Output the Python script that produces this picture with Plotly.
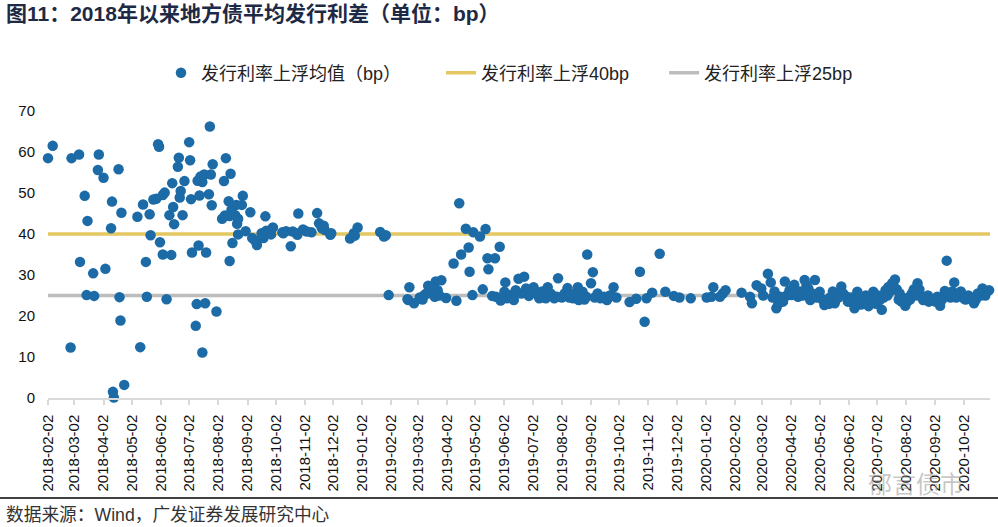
import plotly.graph_objects as go

# ---- data (issue date, average issuance spread in bp) ----
dates_2018 = [
    "2018-02-02","2018-02-07","2018-02-26","2018-02-27","2018-03-07","2018-03-08","2018-03-13","2018-03-15",
    "2018-03-16","2018-03-22","2018-03-23","2018-03-27","2018-03-28","2018-04-02","2018-04-04","2018-04-10",
    "2018-04-11","2018-04-12","2018-04-13","2018-04-18","2018-04-19","2018-04-20","2018-04-21","2018-04-24",
    "2018-05-08","2018-05-11","2018-05-14","2018-05-17","2018-05-18","2018-05-21","2018-05-22","2018-05-25",
    "2018-05-28","2018-05-30","2018-05-31","2018-06-01","2018-06-04","2018-06-04","2018-06-06","2018-06-08",
    "2018-06-11","2018-06-13","2018-06-14","2018-06-15","2018-06-16","2018-06-20","2018-06-21","2018-06-22",
    "2018-06-23","2018-06-25","2018-06-27","2018-07-02","2018-07-03","2018-07-04","2018-07-05","2018-07-09",
    "2018-07-10","2018-07-11","2018-07-12","2018-07-13","2018-07-14","2018-07-16","2018-07-16","2018-07-18",
    "2018-07-19","2018-07-20","2018-07-23","2018-07-24","2018-07-25","2018-07-26","2018-07-27","2018-07-31",
    "2018-08-06","2018-08-08","2018-08-09","2018-08-10","2018-08-13","2018-08-14","2018-08-14","2018-08-15",
    "2018-08-16","2018-08-17","2018-08-20","2018-08-21","2018-08-22","2018-08-23","2018-08-23","2018-08-27",
    "2018-08-28","2018-08-31","2018-09-05","2018-09-07","2018-09-10","2018-09-12","2018-09-17","2018-09-19",
    "2018-09-21","2018-09-22","2018-09-27","2018-09-29","2018-10-09","2018-10-10","2018-10-13","2018-10-18",
    "2018-10-20","2018-10-24","2018-10-25","2018-10-26","2018-10-31","2018-11-04","2018-11-09","2018-11-15",
    "2018-11-17","2018-11-20","2018-11-22","2018-11-23","2018-11-29","2018-11-30","2018-12-20","2018-12-24",
    "2018-12-25","2018-12-28",
]
spread_2018 = [
    58.5,61.5,12.3,58.5,59.4,33.2,49.3,25.1,
    43.2,30.4,24.9,55.6,59.4,53.7,31.5,41.4,
    47.9,1.5,0.1,55.8,24.6,18.9,45.2,3.2,
    44.2,12.4,47.2,33.2,24.7,44.8,39.7,48.4,
    48.6,61.9,61.3,38.0,35.0,49.5,50.1,24.1,
    44.6,34.9,52.4,46.6,42.4,56.4,58.6,48.9,
    50.5,44.6,52.9,62.4,58.0,48.5,35.5,17.6,
    22.9,53.0,37.2,49.4,54.0,52.7,11.1,54.5,
    23.1,35.5,49.7,66.2,54.5,47.0,57.0,21.1,
    43.7,52.9,44.5,58.5,48.0,33.4,44.4,54.7,
    45.9,37.8,44.6,47.1,42.5,43.7,39.9,47.1,
    49.3,40.7,45.3,39.0,38.4,37.3,40.2,39.0,
    44.3,40.8,39.9,41.6,40.4,40.2,40.7,37.0,
    40.6,40.2,39.8,45.0,41.1,40.6,40.4,45.1,
    42.6,41.4,42.0,41.0,39.8,40.2,38.9,40.2,
    39.6,41.6,
]
dates_2019 = [
    "2019-01-21","2019-01-25","2019-01-27","2019-01-30","2019-02-19","2019-02-20","2019-02-21","2019-02-26",
    "2019-03-04","2019-03-07","2019-03-09","2019-03-11","2019-03-13","2019-03-16","2019-03-18","2019-03-20",
    "2019-03-21","2019-03-23","2019-03-25","2019-03-27","2019-04-01","2019-04-09","2019-04-12","2019-04-15",
    "2019-04-17","2019-04-22","2019-04-25","2019-04-26","2019-04-29","2019-04-30","2019-05-07","2019-05-10",
    "2019-05-13","2019-05-15","2019-05-16","2019-05-20","2019-05-23","2019-05-24","2019-05-28","2019-05-29",
    "2019-06-02","2019-06-03","2019-06-05","2019-06-09","2019-06-12","2019-06-14","2019-06-17","2019-06-20",
    "2019-06-23","2019-06-25","2019-06-28","2019-06-30","2019-07-03","2019-07-06","2019-07-09","2019-07-12",
    "2019-07-14","2019-07-16","2019-07-18","2019-07-21","2019-07-23","2019-07-25","2019-07-28","2019-07-29",
    "2019-08-02","2019-08-05","2019-08-08","2019-08-10","2019-08-12","2019-08-14","2019-08-16","2019-08-19",
    "2019-08-20","2019-08-24","2019-08-26","2019-08-28","2019-08-29","2019-09-02","2019-09-04","2019-09-06",
    "2019-09-09","2019-09-12","2019-09-16","2019-09-19","2019-09-22","2019-09-24","2019-09-26","2019-09-29",
    "2019-10-13","2019-10-20","2019-10-24","2019-10-29","2019-10-31","2019-11-06","2019-11-14","2019-11-20",
    "2019-11-29","2019-12-05","2019-12-17",
]
spread_2019 = [
    40.5,39.4,39.7,25.1,24.1,23.9,27.0,23.1,
    24.5,24.0,25.1,25.5,27.4,25.5,27.1,24.7,
    28.4,26.3,25.0,28.7,24.4,32.8,23.7,47.5,
    35.0,41.3,36.7,30.8,25.1,40.4,39.4,26.5,
    41.2,34.1,31.4,24.9,34.1,24.7,36.9,23.8,
    25.9,28.2,24.3,25.1,23.9,26.3,29.1,25.5,
    29.6,26.7,24.9,25.5,27.0,25.5,24.3,26.0,
    24.5,24.3,27.0,25.5,25.0,24.3,24.7,29.2,
    24.5,25.5,26.8,24.5,25.1,24.3,25.5,27.0,
    23.9,25.9,24.0,24.7,35.0,28.0,30.7,24.5,
    25.5,24.3,24.7,23.9,25.0,24.9,27.0,24.5,
    23.4,24.2,30.8,18.6,24.3,25.7,35.2,25.9,
    24.9,24.5,24.3,
]
dates_2020 = [
    "2020-01-03","2020-01-08","2020-01-10","2020-01-17","2020-01-20","2020-01-23","2020-02-09","2020-02-18",
    "2020-02-20","2020-02-25","2020-03-01","2020-03-03","2020-03-08","2020-03-11","2020-03-13","2020-03-15",
    "2020-03-17","2020-03-19","2020-03-21","2020-03-24","2020-03-26","2020-03-28","2020-03-31","2020-04-02",
    "2020-04-05","2020-04-07","2020-04-09","2020-04-11","2020-04-14","2020-04-16","2020-04-18","2020-04-20",
    "2020-04-22","2020-04-24","2020-04-27","2020-04-29","2020-05-02","2020-05-05","2020-05-07","2020-05-10",
    "2020-05-12","2020-05-13","2020-05-16","2020-05-18","2020-05-20","2020-05-22","2020-05-25","2020-05-27",
    "2020-05-31","2020-06-01","2020-06-03","2020-06-05","2020-06-08","2020-06-09","2020-06-11","2020-06-12",
    "2020-06-14","2020-06-15","2020-06-17","2020-06-19","2020-06-20","2020-06-23","2020-06-24","2020-06-26",
    "2020-06-28","2020-06-30","2020-07-01","2020-07-03","2020-07-05","2020-07-07","2020-07-09","2020-07-11",
    "2020-07-13","2020-07-14","2020-07-16","2020-07-18","2020-07-20","2020-07-21","2020-07-23","2020-07-25",
    "2020-07-26","2020-07-28","2020-07-30","2020-08-01","2020-08-03","2020-08-04","2020-08-06","2020-08-08",
    "2020-08-10","2020-08-12","2020-08-14","2020-08-16","2020-08-17","2020-08-19","2020-08-20","2020-08-23",
    "2020-08-25","2020-08-26","2020-08-28","2020-08-30","2020-09-02","2020-09-04","2020-09-07","2020-09-09",
    "2020-09-12","2020-09-14","2020-09-16","2020-09-18","2020-09-20","2020-09-22","2020-09-24","2020-09-27",
    "2020-09-29","2020-10-02","2020-10-04","2020-10-07","2020-10-10","2020-10-13","2020-10-15","2020-10-17",
    "2020-10-20","2020-10-22","2020-10-25","2020-10-27","2020-10-29","2020-10-31",
]
spread_2020 = [
    24.5,24.7,27.0,24.7,25.5,26.3,25.7,24.7,
    23.1,27.5,26.7,25.0,30.3,28.2,24.5,26.0,
    21.9,23.0,24.7,23.5,28.4,25.0,26.3,25.1,
    27.6,25.9,24.7,26.0,25.0,28.8,27.5,26.7,
    23.9,25.5,28.8,24.5,25.9,24.0,22.7,24.0,
    23.0,24.5,26.0,23.1,25.5,24.5,27.2,25.5,
    24.7,23.5,23.5,24.5,21.9,23.0,25.9,24.0,
    23.5,22.8,24.3,24.0,25.0,22.4,24.8,23.5,
    25.9,24.0,23.0,25.0,23.9,21.5,24.5,26.3,
    25.0,27.1,26.0,28.0,27.0,28.9,26.5,24.0,
    25.5,23.5,24.0,22.5,23.5,24.5,24.0,25.5,
    26.5,25.0,28.0,26.5,25.1,24.5,23.9,24.5,
    25.0,23.5,24.0,24.0,23.5,24.7,22.5,24.0,
    26.1,33.5,25.5,24.5,26.0,28.2,24.5,25.1,
    26.0,24.3,24.0,25.0,24.5,23.1,24.0,25.5,
    25.0,26.7,25.0,26.0,26.3,24.7,
]
ref_40 = 40
ref_25 = 25
axis_start, axis_end = "2018-02-02", "2020-10-30"
tick_labels = [
    "2018-02-02","2018-03-02","2018-04-02","2018-05-02","2018-06-02","2018-07-02","2018-08-02",
    "2018-09-02","2018-10-02","2018-11-02","2018-12-02","2019-01-02","2019-02-02","2019-03-02",
    "2019-04-02","2019-05-02","2019-06-02","2019-07-02","2019-08-02","2019-09-02","2019-10-02",
    "2019-11-02","2019-12-02","2020-01-02","2020-02-02","2020-03-02","2020-04-02","2020-05-02",
    "2020-06-02","2020-07-02","2020-08-02","2020-09-02","2020-10-02",
]
y_ticks = [0, 10, 20, 30, 40, 50, 60, 70]

issue_dates = dates_2018 + dates_2019 + dates_2020
spread_bp = spread_2018 + spread_2019 + spread_2020

FONT = "Liberation Sans, Arial, Noto Sans CJK SC, sans-serif"
NB = "\u00a0"

fig = go.Figure()
fig.add_trace(go.Scatter(
    x=[axis_start, axis_end], y=[ref_40, ref_40], mode="lines",
    name="发行利率上浮40bp" + NB * 6, line=dict(color="#E5C761", width=3.5),
    legendrank=2, cliponaxis=False,
))
fig.add_trace(go.Scatter(
    x=[axis_start, axis_end], y=[ref_25, ref_25], mode="lines",
    name="发行利率上浮25bp", line=dict(color="#BDBDBD", width=3.5),
    legendrank=3, cliponaxis=False,
))
fig.add_trace(go.Scatter(
    x=issue_dates, y=spread_bp, mode="markers",
    name="发行利率上浮均值（bp）" + NB * 7,
    marker=dict(color="#1C6BA6", size=10.5, line=dict(width=0)),
    legendrank=1, cliponaxis=False,
))

fig.update_layout(
    width=998, height=527,
    margin=dict(l=48, r=8, t=111, b=129),
    paper_bgcolor="white", plot_bgcolor="white",
    font=dict(family=FONT, size=15, color="#111111"),
    showlegend=True,
    legend=dict(
        orientation="h", x=(161 - 48) / 942, xanchor="left", y=1 + (111 - 73) / 287, yanchor="middle",
        font=dict(size=18, color="#222222"), bgcolor="rgba(0,0,0,0)",
    ),
    title=dict(
        text="<b>图11：2018年以来地方债平均发行利差（单位：bp）</b>",
        x=0.006, xref="container", xanchor="left",
        y=1 - 14 / 527, yref="container", yanchor="middle",
        font=dict(family=FONT, size=21, color="#1E2A45"),
    ),
)
fig.update_xaxes(
    type="date", range=[axis_start, axis_end],
    tickmode="array", tickvals=tick_labels, ticktext=tick_labels,
    tickangle=-90, tickfont=dict(size=15, color="#111111"),
    showline=True, linecolor="#D9D9D9", linewidth=1.5,
    ticks="outside", ticklen=5, tickcolor="#D9D9D9", tickwidth=1.5,
    showgrid=False, zeroline=False, automargin=False, ticklabelstandoff=4,
)
fig.update_yaxes(
    range=[0, 70], tickmode="array", tickvals=y_ticks,
    tickfont=dict(size=15, color="#111111"),
    showline=False, showgrid=False, zeroline=False, ticks="",
    ticklabelstandoff=12, automargin=False,
)

# bottom rule, source note and watermark
fig.add_shape(type="line", xref="paper", yref="paper",
              x0=-48 / 942, x1=950 / 942, y0=(398 - 498) / 287, y1=(398 - 498) / 287,
              line=dict(color="#000000", width=1.5))
fig.add_annotation(text="数据来源：Wind，广发证券发展研究中心",
                   xref="paper", yref="paper", x=-44 / 942, y=(398 - 515) / 287,
                   xanchor="left", yanchor="middle", showarrow=False,
                   font=dict(family=FONT, size=17.7, color="#333333"))
fig.add_annotation(text="郁言债市",
                   xref="paper", yref="paper", x=(916 - 48) / 942, y=(398 - 484) / 287,
                   xanchor="center", yanchor="middle", showarrow=False,
                   font=dict(family=FONT, size=24, color="rgba(150,150,150,0.55)"))

fig.write_html("out.html", config={"displayModeBar": False},
               post_script="document.body.style.margin='0px';")
